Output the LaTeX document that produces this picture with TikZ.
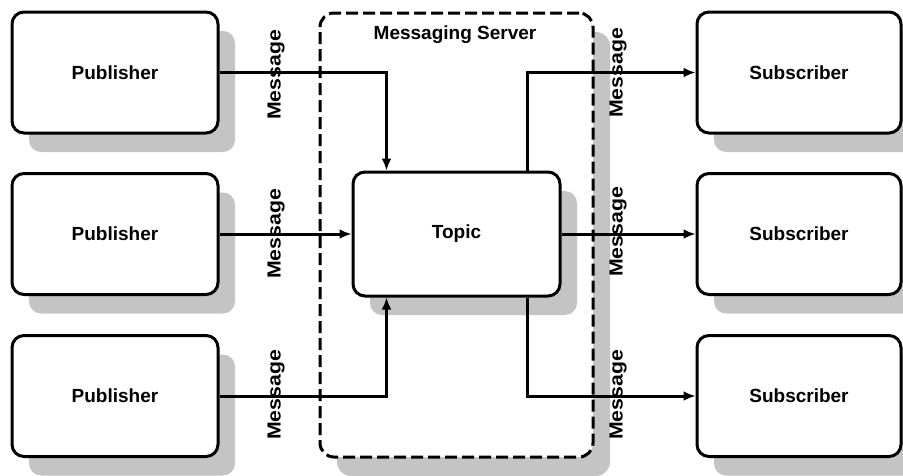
\documentclass[tikz,border=0pt]{standalone}
\usepackage{fontspec}
\setmainfont{Liberation Sans}
\usetikzlibrary{arrows.meta,shadows}
\definecolor{shadowgray}{HTML}{C4C4C4}
\tikzset{
  lbl/.style={font=\bfseries\fontsize{19}{21}\selectfont},
  dshadow/.style={drop shadow={shadow xshift=17pt,shadow yshift=-19pt,fill=shadowgray,opacity=1}},
  box/.style={draw, line width=3pt, rounded corners=12pt, fill=white, minimum width=206pt, minimum height=121pt, lbl, dshadow},
  server/.style={draw, dashed, dash pattern=on 12pt off 5pt, line width=3pt, rounded corners=14pt, fill=white, minimum width=273pt, minimum height=444pt, dshadow},
  conn/.style={line width=3pt, -{Latex[length=12pt,width=10pt]}},
  msg/.style={lbl, rotate=90, inner sep=0pt}
}
\begin{document}
\begin{tikzpicture}[x=1pt,y=-1pt]
\useasboundingbox (0,0) rectangle (903,475);
\clip (0,0) rectangle (903,475);
\node[server] (srv) at (456.5,235) {};
\node[lbl] (title) at (455,35) {Messaging Server};
\node[box] (p1) at (115,72.5) {Publisher};
\node[box] (p2) at (115,234) {Publisher};
\node[box] (p3) at (115,396) {Publisher};
\node[box, minimum width=207pt, minimum height=124pt] (t) at (456.5,234) {Topic};
\node[box, minimum width=204pt] (s1) at (799,72.5) {Subscriber};
\node[box, minimum width=204pt] (s2) at (799,234) {Subscriber};
\node[box, minimum width=204pt] (s3) at (799,396) {Subscriber};
\draw[conn] (p1.east) -| ([xshift=35pt]t.north west);
\draw[conn] (p2.east) -- (t.west);
\draw[conn] (p3.east) -| ([xshift=35pt]t.south west);
\draw[conn] ([xshift=-34pt]t.north east) |- (s1.west);
\draw[conn] (t.east) -- (s2.west);
\draw[conn] ([xshift=-34pt]t.south east) |- (s3.west);
\node[msg] (m1) at (276,75) {\scalebox{1.12}[1]{Message}};
\node[msg] (m2) at (276,234) {\scalebox{1.12}[1]{Message}};
\node[msg] (m3) at (276,395) {\scalebox{1.12}[1]{Message}};
\node[msg] (m4) at (618,73) {\scalebox{1.12}[1]{Message}};
\node[msg] (m5) at (618,232) {\scalebox{1.12}[1]{Message}};
\node[msg] (m6) at (618,395) {\scalebox{1.12}[1]{Message}};
\end{tikzpicture}
\end{document}
